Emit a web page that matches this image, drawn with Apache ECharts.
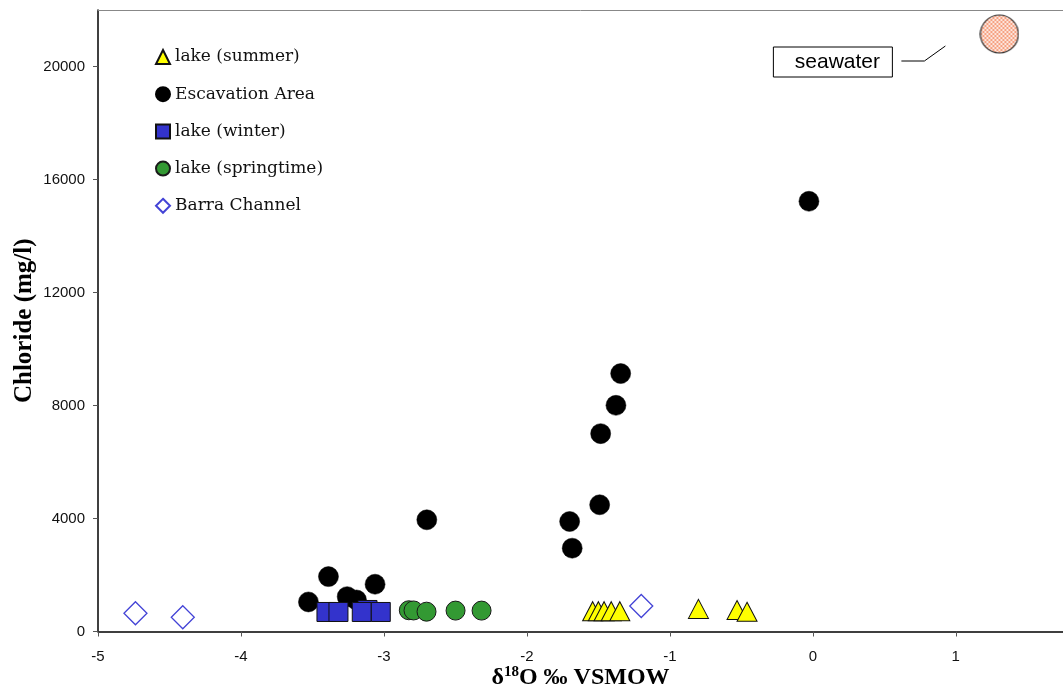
<!DOCTYPE html>
<html><head><meta charset="utf-8">
<script src="https://cdn.jsdelivr.net/npm/echarts@6/dist/echarts.min.js"></script>
<style>html,body{margin:0;padding:0;background:#fff}#c{width:1063px;height:693px}</style>
</head><body><div id="c"></div>
<script>
// ---- data ----
const xTicks = [-5, -4, -3, -2, -1, 0, 1];
const yTicks = [0, 4000, 8000, 12000, 16000, 20000];
const seriesNames = ['lake (summer)', 'Escavation Area', 'lake (winter)', 'lake (springtime)', 'Barra Channel'];
const summer = [[-1.54, 720], [-1.50, 720], [-1.46, 720], [-1.41, 720], [-1.35, 720], [-0.80, 800], [-0.53, 760], [-0.46, 700]];
const escavation = [[-3.528, 1046], [-3.388, 1943], [-3.257, 1234], [-3.192, 1117], [-3.062, 1674], [-2.700, 3954],
  [-1.701, 3894], [-1.683, 2950], [-1.491, 4486], [-1.484, 7004], [-1.377, 8007], [-1.344, 9131], [-0.027, 15230]];
const winter = [[-3.115, 762], [-3.402, 691], [-3.318, 691], [-3.155, 691], [-3.022, 691]];
const spring = [[-2.826, 752], [-2.793, 745], [-2.702, 702], [-2.499, 740], [-2.317, 740]];
const barra = [[-4.738, 645], [-4.407, 503], [-1.200, 904]];
const seawater = [[1.305, 21150]];
const seawaterLabel = 'seawater';

// ---- hatched circle symbol for seawater ----
const S = 40;
const pc = document.createElement('canvas');
pc.width = S; pc.height = S;
const g = pc.getContext('2d');
g.save();
g.beginPath(); g.arc(S / 2, S / 2, S / 2 - 1, 0, Math.PI * 2); g.closePath();
g.fillStyle = '#f6a07f'; g.fill();
g.clip();
g.strokeStyle = 'rgba(255,255,255,0.75)'; g.lineWidth = 1;
g.beginPath();
for (let k = -S; k < 2 * S; k += 4) {
  g.moveTo(k, 0); g.lineTo(k + S, S);
  g.moveTo(k, S); g.lineTo(k + S, 0);
}
g.stroke();
g.restore();
g.beginPath(); g.arc(S / 2, S / 2, S / 2 - 1, 0, Math.PI * 2);
g.strokeStyle = '#333'; g.lineWidth = 1.2; g.stroke();
const seawaterSymbol = 'image://' + pc.toDataURL();

const tickFont = { fontFamily: 'Liberation Sans', fontSize: 15, color: '#111' };
const titleFont = 'Liberation Serif';

const chart = echarts.init(document.getElementById('c'), null, { renderer: 'canvas' });
const option = {
  animation: false,
  backgroundColor: '#fff',
  grid: { left: 98, right: 0, top: 10, bottom: 61.5, containLabel: false, outerBoundsMode: 'none' },
  legend: {
    data: seriesNames, orient: 'vertical', left: 150, top: 42,
    itemWidth: 14, itemHeight: 14, itemGap: 17.2,
    textStyle: { fontFamily: 'DejaVu Serif', fontSize: 17, color: '#111', lineHeight: 20 },
    selectedMode: false
  },
  xAxis: [{
    type: 'value', min: -5, max: 1.75, interval: 1, position: 'bottom',
    axisLine: { show: true, onZero: false, lineStyle: { color: '#000', width: 1.5 } },
    axisTick: { show: true, length: 5, customValues: xTicks, lineStyle: { color: '#555' } },
    axisLabel: Object.assign({ customValues: xTicks, margin: 18, formatter: v => String(v) }, tickFont),
    splitLine: { show: false },
    name: '{a|δ}{s|18}{a|O ‰ VSMOW}', nameLocation: 'middle', nameGap: 33, nameMoveOverlap: false,
    nameTextStyle: { rich: {
      a: { fontFamily: titleFont, fontWeight: 'bold', fontSize: 24, color: '#000' },
      s: { fontFamily: titleFont, fontWeight: 'bold', fontSize: 15, color: '#000', padding: [0, 0, 12, 0] }
    } }
  }, {
    type: 'value', min: -5, max: 1.75, position: 'top',
    axisLine: { show: true, onZero: false, lineStyle: { color: '#888', width: 1 } },
    axisTick: { show: false }, axisLabel: { show: false }, splitLine: { show: false }
  }],
  yAxis: {
    type: 'value', min: 0, max: 22000, interval: 4000,
    axisLine: { show: true, onZero: false, lineStyle: { color: '#000', width: 1.5 } },
    axisTick: { show: true, length: 5, customValues: yTicks, lineStyle: { color: '#555' } },
    axisLabel: Object.assign({ customValues: yTicks, margin: 13, formatter: v => String(v) }, tickFont),
    splitLine: { show: false },
    name: 'Chloride (mg/l)', nameLocation: 'middle', nameGap: 61, nameRotate: 90, nameMoveOverlap: false,
    nameTextStyle: { fontFamily: titleFont, fontWeight: 'bold', fontSize: 25, color: '#000' }
  },
  series: [
    { name: 'Barra Channel', type: 'scatter', data: barra, symbol: 'diamond', symbolSize: 23,
      itemStyle: { color: '#fff', borderColor: '#4343d6', borderWidth: 1.3, opacity: 1 } },
    { name: 'Escavation Area', type: 'scatter', data: escavation, symbol: 'circle', symbolSize: 20,
      itemStyle: { color: '#000', borderColor: '#000', borderWidth: 0.5, opacity: 1 } },
    { name: 'lake (winter)', type: 'scatter', data: winter, symbol: 'rect', symbolSize: 19,
      itemStyle: { color: '#3333cc', borderColor: '#111', borderWidth: 1, opacity: 1 } },
    { name: 'lake (springtime)', type: 'scatter', data: spring, symbol: 'circle', symbolSize: 19,
      itemStyle: { color: '#339933', borderColor: '#1a1a1a', borderWidth: 1, opacity: 1 } },
    { name: 'lake (summer)', type: 'scatter', data: summer, symbol: 'triangle', symbolSize: [20, 19],
      itemStyle: { color: '#ffff00', borderColor: '#111', borderWidth: 1, opacity: 1 } },
    { name: 'seawater', type: 'scatter', data: seawater, symbol: seawaterSymbol, symbolSize: S,
      itemStyle: { opacity: 1 } }
  ]
};
chart.setOption(option);

// annotation box + leader line placed relative to the seawater point
const p = chart.convertToPixel({ xAxisIndex: 0, yAxisIndex: 0 }, seawater[0]);
chart.setOption({
  graphic: [
    { type: 'rect', shape: { x: p[0] - 226, y: p[1] + 13, width: 119, height: 30 },
      style: { fill: '#fff', stroke: '#000', lineWidth: 1 } },
    { type: 'text', x: p[0] - 162, y: p[1] + 28,
      style: { text: seawaterLabel, font: '21px "Liberation Sans"', fill: '#000', align: 'center', verticalAlign: 'middle' } },
    { type: 'polyline', shape: { points: [[p[0] - 98, p[1] + 27], [p[0] - 75, p[1] + 27], [p[0] - 54, p[1] + 12]] },
      style: { stroke: '#000', lineWidth: 1, fill: null } }
  ]
});
</script>
</body></html>
